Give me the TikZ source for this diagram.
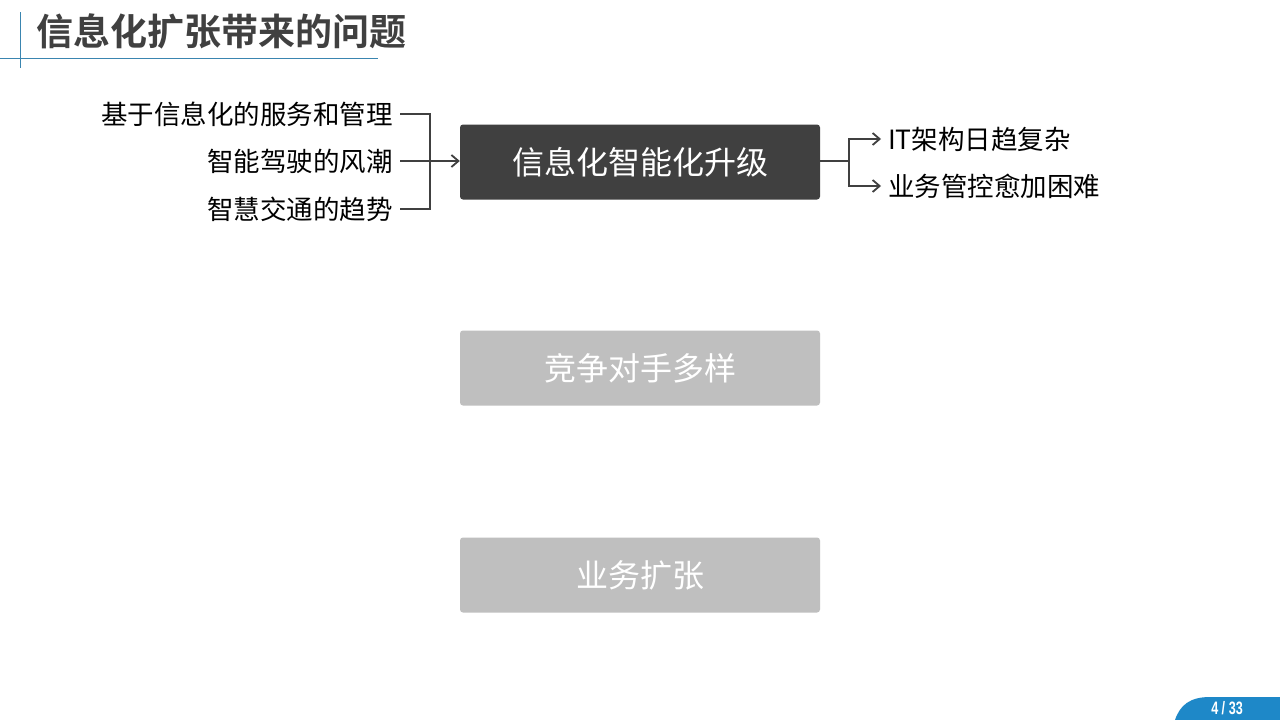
\documentclass[tikz,border=0pt]{standalone}
\usepackage{fontspec}
\setmainfont{Liberation Sans}
\newfontfamily\cjk{Noto Sans CJK SC}
\newfontfamily\cjkbold{Noto Sans CJK SC}[BoldFont={Noto Sans CJK SC Bold}]
\usetikzlibrary{arrows.meta}
\definecolor{dark}{HTML}{404040}
\definecolor{lightg}{HTML}{BFBFBF}
\definecolor{lineblue}{HTML}{3A85B0}
\definecolor{pageblue}{HTML}{1E88C8}
\begin{document}
\begin{tikzpicture}[x=1pt,y=-1pt,
  box/.style={rounded corners=3pt,minimum width=360pt,minimum height=75pt,inner sep=0pt,text=white,font=\cjk\fontsize{32}{36}\selectfont},
  side/.style={inner sep=0pt,font=\cjk\fontsize{26.5}{30}\selectfont,text=black},
  conn/.style={draw=dark,line width=2.4pt},
  arr/.style={conn,-{Straight Barb[length=7pt,width=12pt,line width=1.8pt]}}
]
\useasboundingbox (0,0) rectangle (1280,720);
\fill[white] (0,0) rectangle (1280,720);
% title decoration
\draw[lineblue,line width=1pt] (20,12) -- (20,68);
\draw[lineblue,line width=1pt] (0,58) -- (378,58);
\node[anchor=west,inner sep=0pt,text=dark,font=\cjkbold\bfseries\fontsize{37}{40}\selectfont] (title) at (36,31) {信息化扩张带来的问题};
% boxes
\node[box,fill=dark] (main) at (640,162) {信息化智能化升级};
\node[box,fill=lightg] (comp) at (640,368) {竞争对手多样};
\node[box,fill=lightg] (biz) at (640,575) {业务扩张};
% left texts
\node[side,anchor=east] (l1) at (393,114) {基于信息化的服务和管理};
\node[side,anchor=east] (l2) at (393,161) {智能驾驶的风潮};
\node[side,anchor=east] (l3) at (393,209) {智慧交通的趋势};
\coordinate (lj) at (430,161);
\draw[conn] ([xshift=7pt]l1.east) -| (lj);
\draw[conn] ([xshift=7pt]l3.east) -| (lj);
\draw[arr] ([xshift=7pt]l2.east) -- (l2.east -| main.west);
% right texts
\node[side,anchor=west] (r1) at (888,139) {IT架构日趋复杂};
\node[side,anchor=west] (r2) at (888,186) {业务管控愈加困难};
\coordinate (rj) at (849,161);
\draw[conn] (rj -| main.east) -- (rj);
\draw[arr] (rj) |- ([xshift=-7pt]r1.west);
\draw[arr] (rj) |- ([xshift=-7pt]r2.west);
% page number
\fill[pageblue] (1175,720) .. controls (1180,705) and (1190,697) .. (1210,697) -- (1280,697) -- (1280,720) -- cycle;
\node[text=white,inner sep=0pt,font=\bfseries\fontsize{18}{20}\selectfont,xscale=0.7] (pg) at (1227,708) {4 / 33};
\end{tikzpicture}
\end{document}
